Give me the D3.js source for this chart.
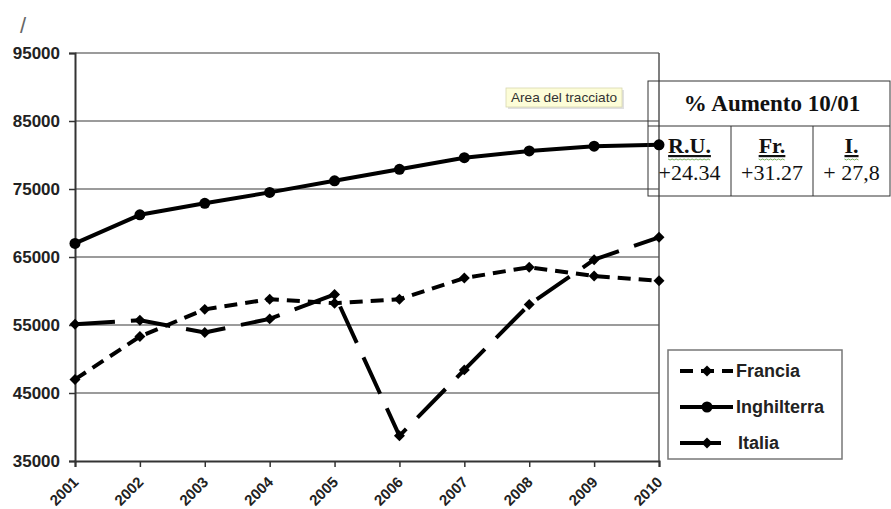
<!DOCTYPE html>
<html>
<head>
<meta charset="utf-8">
<script src="https://cdn.jsdelivr.net/npm/d3@7"></script>
<style>
  html, body { margin: 0; padding: 0; background: #fff; }
  svg { display: block; }
</style>
</head>
<body>
<svg id="chart" width="891" height="509"></svg>
<script>
// Values per year for each country
const years = ["2001","2002","2003","2004","2005","2006","2007","2008","2009","2010"];
const francia     = [47000, 53300, 57300, 58800, 58200, 58800, 61900, 63500, 62200, 61500];
const inghilterra = [67000, 71200, 72900, 74500, 76200, 77900, 79600, 80600, 81300, 81500];
const italia      = [55100, 55700, 53900, 55900, 59500, 38700, 48400, 58000, 64600, 67900];
const yTicks = [35000, 45000, 55000, 65000, 75000, 85000, 95000];

// Percentage increase table
const tableTitle = "% Aumento 10/01";
const tableHeads = ["R.U.", "Fr.", "I."];
const tableValues = ["+24.34", "+31.27", "+ 27,8"];

const series = [
  { name: "Francia",     values: francia,     dash: "13,8",  marker: "diamond" },
  { name: "Inghilterra", values: inghilterra, dash: null,    marker: "circle" },
  { name: "Italia",      values: italia,      dash: "40,16", marker: "diamond" }
];

const svg = d3.select("#chart");
const plotLeft = 75, plotRight = 659, plotTop = 53, plotBottom = 461;
const sans = "Liberation Sans, Arial, sans-serif";
const serif = "Liberation Serif, Times New Roman, serif";

const x = d3.scalePoint().domain(years).range([plotLeft, plotRight]);
const y = d3.scaleLinear().domain([35000, 95000]).range([plotBottom, plotTop]);

// stray mark at top-left
svg.append("text").attr("x", 20).attr("y", 33)
  .attr("font-family", sans).attr("font-size", 22).attr("fill", "#666").text("/");

// horizontal gridlines
svg.append("g").selectAll("line").data(yTicks.filter(v => v > 35000)).join("line")
  .attr("x1", plotLeft).attr("x2", plotRight)
  .attr("y1", d => y(d)).attr("y2", d => y(d))
  .attr("stroke", "#7a7a7a").attr("stroke-width", 1.5);

// right border of plot area
svg.append("line").attr("x1", plotRight).attr("x2", plotRight).attr("y1", plotTop).attr("y2", plotBottom)
  .attr("stroke", "#555").attr("stroke-width", 1.5);

// Y axis
const yAxis = svg.append("g").attr("transform", `translate(${plotLeft},0)`)
  .call(d3.axisLeft(y).tickValues(yTicks).tickFormat(d3.format("d")).tickSizeOuter(0).tickSize(6).tickPadding(9));
yAxis.select(".domain").attr("stroke", "#333").attr("stroke-width", 2);
yAxis.selectAll(".tick line").attr("stroke", "#333").attr("stroke-width", 1.5);
yAxis.selectAll(".tick text")
  .attr("font-family", sans).attr("font-size", 17).attr("font-weight", "bold").attr("fill", "#222");

// X axis
const xAxis = svg.append("g").attr("transform", `translate(0,${plotBottom})`)
  .call(d3.axisBottom(x).tickSizeOuter(0).tickSize(6));
xAxis.select(".domain").attr("stroke", "#333").attr("stroke-width", 2);
xAxis.selectAll(".tick line").attr("stroke", "#333").attr("stroke-width", 1.5);
xAxis.selectAll(".tick text")
  .attr("font-family", sans).attr("font-size", 15).attr("font-weight", "bold").attr("fill", "#222")
  .attr("text-anchor", "end")
  .attr("x", 0).attr("y", 0).attr("dy", 0)
  .attr("transform", "translate(4,22) rotate(-45)");

// Lines
const line = d3.line().x((d, i) => x(years[i])).y(d => y(d));
const diamond = d3.symbol().type(d3.symbolSquare).size(60);

series.forEach(s => {
  svg.append("path").datum(s.values)
    .attr("d", line).attr("fill", "none")
    .attr("stroke", "#000").attr("stroke-width", 4)
    .attr("stroke-dasharray", s.dash)
    .attr("stroke-linejoin", "round");
  const g = svg.append("g");
  if (s.marker === "circle") {
    g.selectAll("circle").data(s.values).join("circle")
      .attr("cx", (d, i) => x(years[i])).attr("cy", d => y(d)).attr("r", 5.5).attr("fill", "#000");
  } else {
    g.selectAll("path").data(s.values).join("path")
      .attr("d", diamond)
      .attr("transform", (d, i) => `translate(${x(years[i])},${y(d)}) rotate(45)`).attr("fill", "#000");
  }
});

// Tooltip label
const tip = svg.append("g");
tip.append("rect").attr("x", 508).attr("y", 90).attr("width", 116).attr("height", 19)
  .attr("fill", "#ccc").attr("opacity", 0.6);
tip.append("rect").attr("x", 506).attr("y", 88).attr("width", 116).attr("height", 19)
  .attr("fill", "#fdfdd8").attr("stroke", "#d8d8b0").attr("stroke-width", 0.8);
tip.append("text").attr("x", 564).attr("y", 102).attr("text-anchor", "middle")
  .attr("font-family", sans).attr("font-size", 13).attr("fill", "#333")
  .attr("textLength", 106).attr("lengthAdjust", "spacingAndGlyphs").text("Area del tracciato");

// Table
const tb = svg.append("g");
const tx0 = 648, tx1 = 890, ty0 = 81, ty1 = 126, ty2 = 196;
const colX = [tx0, 731, 813, tx1];
tb.append("rect").attr("x", tx0).attr("y", ty0).attr("width", tx1 - tx0).attr("height", ty2 - ty0)
  .attr("fill", "none").attr("stroke", "#333").attr("stroke-width", 1);
tb.append("line").attr("x1", tx0).attr("x2", tx1).attr("y1", ty1).attr("y2", ty1)
  .attr("stroke", "#333").attr("stroke-width", 1);
[731, 813].forEach(cx => tb.append("line").attr("x1", cx).attr("x2", cx).attr("y1", ty1).attr("y2", ty2)
  .attr("stroke", "#333").attr("stroke-width", 1));
tb.append("text").attr("x", 772).attr("y", 111).attr("text-anchor", "middle")
  .attr("font-family", serif).attr("font-size", 23).attr("font-weight", "bold").attr("fill", "#111").text(tableTitle);
tableHeads.forEach((h, i) => {
  const cx = (colX[i] + colX[i + 1]) / 2;
  const t = tb.append("text").attr("x", cx).attr("y", 153).attr("text-anchor", "middle")
    .attr("font-family", serif).attr("font-size", 22).attr("font-weight", "bold").attr("fill", "#111")
    .attr("text-decoration", "underline").text(h);
  const bb = t.node().getBBox();
  // spell-check squiggle under the label
  const pts = [];
  for (let xx = bb.x; xx <= bb.x + bb.width; xx += 2) pts.push([xx, 159 + ((Math.round((xx - bb.x) / 2) % 2) ? 1 : 0)]);
  tb.append("path").attr("d", d3.line()(pts)).attr("fill", "none")
    .attr("stroke", "#5a9a3a").attr("stroke-width", 0.8);
  tb.append("text").attr("x", cx).attr("y", 180).attr("text-anchor", "middle")
    .attr("font-family", serif).attr("font-size", 22).attr("fill", "#111").text(tableValues[i]);
});

// Legend
const lg = svg.append("g");
lg.append("rect").attr("x", 668).attr("y", 350).attr("width", 174).attr("height", 109)
  .attr("fill", "#fff").attr("stroke", "#777").attr("stroke-width", 1.5);
const legendRows = [371, 407, 443];
series.forEach((s, i) => {
  const ly = legendRows[i];
  const x2 = s.name === "Italia" ? 721 : 733;
  lg.append("line").attr("x1", 680).attr("x2", x2).attr("y1", ly).attr("y2", ly)
    .attr("stroke", "#000").attr("stroke-width", 4).attr("stroke-dasharray", s.name === "Francia" ? "13,8" : null);
  if (s.marker === "circle") {
    lg.append("circle").attr("cx", 707).attr("cy", ly).attr("r", 5.5).attr("fill", "#000");
  } else {
    lg.append("path").attr("d", diamond).attr("transform", `translate(707,${ly}) rotate(45)`).attr("fill", "#000");
  }
  lg.append("text").attr("x", s.name === "Italia" ? 738 : 736).attr("y", ly).attr("dy", "0.35em")
    .attr("font-family", sans).attr("font-size", 18).attr("font-weight", "bold").attr("fill", "#222").text(s.name);
});
</script>
</body>
</html>
